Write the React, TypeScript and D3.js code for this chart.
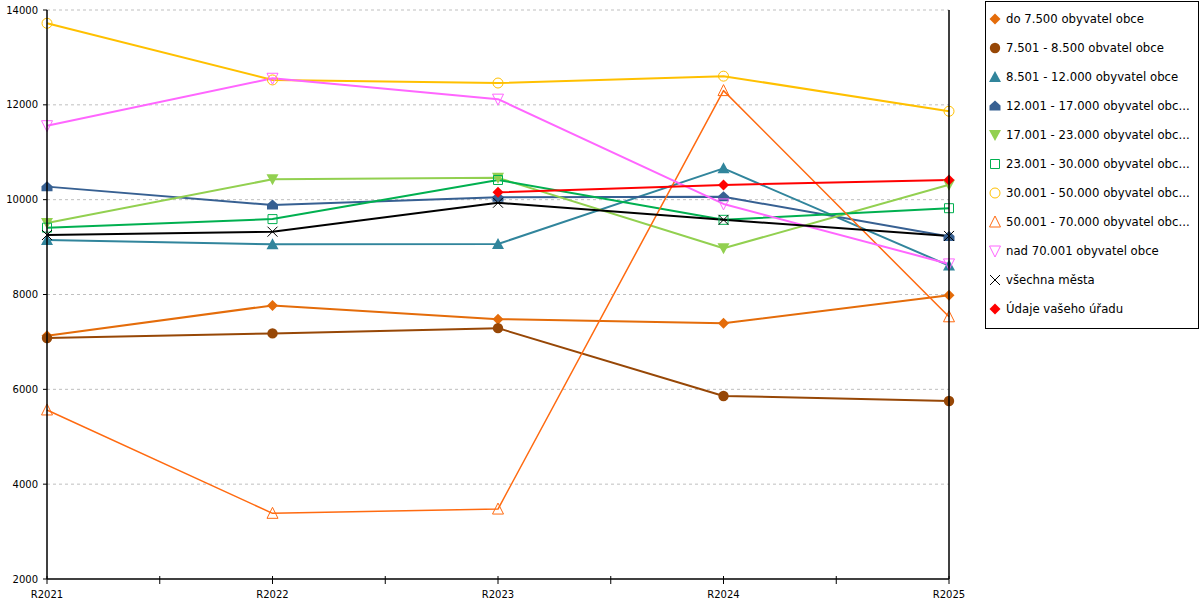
import { useEffect, useRef } from 'react';
import * as d3 from 'd3';

const categories = ['R2021', 'R2022', 'R2023', 'R2024', 'R2025'];
const yTicks = [2000, 4000, 6000, 8000, 10000, 12000, 14000];

const do7500 = [7130, 7770, 7480, 7395, 7985];
const od7501 = [7080, 7180, 7290, 5860, 5755];
const od8501 = [9150, 9060, 9065, 10660, 8610];
const od12001 = [10275, 9885, 10050, 10060, 9225];
const od17001 = [9510, 10430, 10460, 8975, 10315];
const od23001 = [9410, 9590, 10415, 9575, 9820];
const od30001 = [13720, 12525, 12460, 12605, 11865];
const od50001 = [5565, 3385, 3475, 12300, 7530];
const nad70001 = [11560, 12560, 12120, 9910, 8645];
const vsechnaMesta = [9255, 9325, 9935, 9575, 9235];
const vasUrad = [null, null, 10155, 10310, 10415];

const legendLabels = [
  'do 7.500 obyvatel obce',
  '7.501 - 8.500 obvatel obce',
  '8.501 - 12.000 obyvatel obce',
  '12.001 - 17.000 obyvatel obc...',
  '17.001 - 23.000 obyvatel obc...',
  '23.001 - 30.000 obyvatel obc...',
  '30.001 - 50.000 obyvatel obc...',
  '50.001 - 70.000 obyvatel obc...',
  'nad 70.001 obyvatel obce',
  'všechna města',
  'Údaje vašeho úřadu',
];

type Shape = 'diamond' | 'circle' | 'triUp' | 'house' | 'triDown' | 'square' | 'circleO' | 'triUpO' | 'triDownO' | 'cross';

const series: { name: string; values: (number | null)[]; color: string; shape: Shape; width: number }[] = [
  { name: legendLabels[0], values: do7500, color: '#e46c0a', shape: 'diamond', width: 2 },
  { name: legendLabels[1], values: od7501, color: '#974706', shape: 'circle', width: 2 },
  { name: legendLabels[2], values: od8501, color: '#31859c', shape: 'triUp', width: 2 },
  { name: legendLabels[3], values: od12001, color: '#376092', shape: 'house', width: 2 },
  { name: legendLabels[4], values: od17001, color: '#92d050', shape: 'triDown', width: 2 },
  { name: legendLabels[5], values: od23001, color: '#00b050', shape: 'square', width: 2 },
  { name: legendLabels[6], values: od30001, color: '#ffc000', shape: 'circleO', width: 2 },
  { name: legendLabels[7], values: od50001, color: '#ff6a10', shape: 'triUpO', width: 1.5 },
  { name: legendLabels[8], values: nad70001, color: '#ff66ff', shape: 'triDownO', width: 2 },
  { name: legendLabels[9], values: vsechnaMesta, color: '#000000', shape: 'cross', width: 2 },
  { name: legendLabels[10], values: vasUrad, color: '#ff0000', shape: 'diamond', width: 2 },
];

const FONT = '"DejaVu Sans", Verdana, sans-serif';

const drawMarker = (g: d3.Selection<SVGGElement, unknown, null, undefined>, shape: Shape, color: string) => {
  const hollow = { stroke: color, 'stroke-width': 1, fill: 'none' };
  const add = (d: string, filled: boolean) => {
    const p = g.append('path').attr('d', d);
    if (filled) p.attr('fill', color);
    else Object.entries(hollow).forEach(([k, v]) => p.attr(k, v as any));
  };
  switch (shape) {
    case 'diamond': add('M0,-5.5L5.5,0L0,5.5L-5.5,0Z', true); break;
    case 'circle': g.append('circle').attr('r', 5.2).attr('fill', color); break;
    case 'triUp': add('M0,-6L6,5L-6,5Z', true); break;
    case 'house': add('M0,-5.5L5.5,-0.5L5.5,4.5L-5.5,4.5L-5.5,-0.5Z', true); break;
    case 'triDown': add('M-6,-5L6,-5L0,6Z', true); break;
    case 'square': add('M-4.5,-4.5H4.5V4.5H-4.5Z', false); break;
    case 'circleO': g.append('circle').attr('r', 5).attr('fill', 'none').attr('stroke', color).attr('stroke-width', 1); break;
    case 'triUpO': add('M0,-6L5.5,5L-5.5,5Z', false); break;
    case 'triDownO': add('M-5.5,-5L5.5,-5L0,6Z', false); break;
    case 'cross': add('M-5,-5L5,5M5,-5L-5,5', false); break;
  }
};

export default function App() {
  const ref = useRef<SVGSVGElement>(null);

  useEffect(() => {
    document.body.style.margin = '0';
    document.body.style.overflow = 'hidden';
    if (!ref.current) return;
    const svg = d3.select(ref.current);
    svg.selectAll('*').remove();

    const left = 47, right = 949, top = 10, bottom = 579;

    const x = d3.scalePoint<string>().domain(categories).range([left, right]);
    const y = d3.scaleLinear().domain([2000, 14000]).range([bottom, top]);

    // gridlines
    svg.append('g')
      .selectAll('line')
      .data(yTicks.filter(t => t > 2000))
      .enter()
      .append('line')
      .attr('x1', left).attr('x2', right)
      .attr('y1', d => y(d)).attr('y2', d => y(d))
      .attr('stroke', '#bfbfbf')
      .attr('stroke-dasharray', '3,3');

    // lines and markers
    const line = d3.line<number | null>()
      .defined(d => d !== null)
      .x((_, i) => x(categories[i]) as number)
      .y(d => y(d as number));

    series.forEach(s => {
      svg.append('path')
        .datum(s.values)
        .attr('d', line)
        .attr('fill', 'none')
        .attr('stroke', s.color)
        .attr('stroke-width', s.width)
        .attr('stroke-linejoin', 'round');
    });

    series.forEach(s => {
      s.values.forEach((v, i) => {
        if (v === null) return;
        const g = svg.append('g').attr('transform', `translate(${x(categories[i])},${y(v)})`);
        drawMarker(g, s.shape, s.color);
      });
    });

    // y axis
    const yAxis = svg.append('g');
    yAxis.append('line')
      .attr('x1', left).attr('x2', left).attr('y1', top).attr('y2', bottom)
      .attr('stroke', '#000').attr('stroke-width', 1.5);
    yAxis.selectAll('line.tick')
      .data(yTicks)
      .enter()
      .append('line')
      .attr('class', 'tick')
      .attr('x1', left - 4).attr('x2', left)
      .attr('y1', d => y(d)).attr('y2', d => y(d))
      .attr('stroke', '#000');
    yAxis.selectAll('text')
      .data(yTicks)
      .enter()
      .append('text')
      .text(d => d)
      .attr('x', left - 9)
      .attr('y', d => y(d))
      .attr('dy', '0.35em')
      .attr('text-anchor', 'end')
      .attr('font-family', FONT)
      .attr('font-size', 10)
      .attr('fill', '#000');

    // right border line
    svg.append('line')
      .attr('x1', right).attr('x2', right).attr('y1', top).attr('y2', bottom)
      .attr('stroke', '#000').attr('stroke-width', 1.5);

    // x axis
    const xAxis = svg.append('g');
    xAxis.append('line')
      .attr('x1', left).attr('x2', right).attr('y1', bottom).attr('y2', bottom)
      .attr('stroke', '#000').attr('stroke-width', 1.5);
    const step = x.step();
    const tickPos: number[] = [];
    categories.forEach((c, i) => {
      tickPos.push(x(c) as number);
      if (i < categories.length - 1) tickPos.push((x(c) as number) + step / 2);
    });
    xAxis.selectAll('line.tick')
      .data(tickPos)
      .enter()
      .append('line')
      .attr('class', 'tick')
      .attr('x1', d => d).attr('x2', d => d)
      .attr('y1', bottom - 3).attr('y2', bottom + 5)
      .attr('stroke', '#000');
    xAxis.selectAll('text')
      .data(categories)
      .enter()
      .append('text')
      .text(d => d)
      .attr('x', d => x(d) as number)
      .attr('y', 598)
      .attr('text-anchor', 'middle')
      .attr('font-family', FONT)
      .attr('font-size', 10)
      .attr('fill', '#000');

    // legend
    const legend = svg.append('g');
    legend.append('rect')
      .attr('x', 985.5).attr('y', 1.5)
      .attr('width', 213).attr('height', 327)
      .attr('fill', '#fff')
      .attr('stroke', '#000');
    series.forEach((s, i) => {
      const cy = 19 + i * 29;
      const g = legend.append('g').attr('transform', `translate(995,${cy})`);
      drawMarker(g, s.shape, s.color);
      legend.append('text')
        .text(s.name)
        .attr('x', 1006)
        .attr('y', cy)
        .attr('dy', '0.35em')
        .attr('font-family', FONT)
        .attr('font-size', 11.7)
        .attr('fill', '#000');
    });
  }, []);

  return <svg ref={ref} width={1200} height={600} style={{ display: 'block' }} />;
}
